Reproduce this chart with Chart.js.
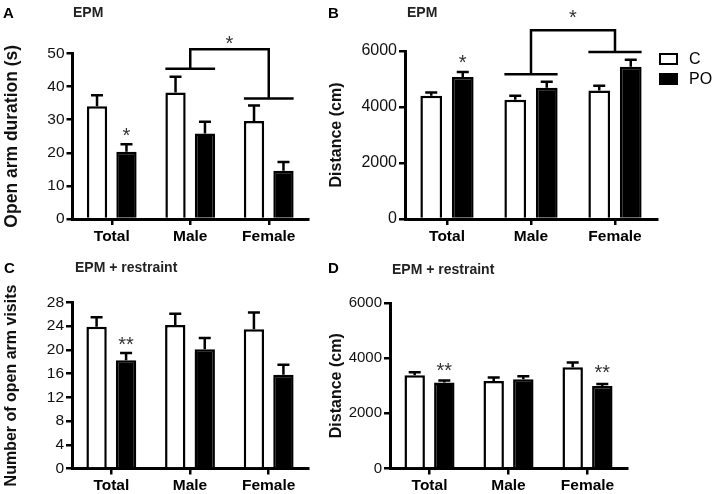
<!DOCTYPE html>
<html>
<head>
<meta charset="utf-8">
<script src="https://cdn.jsdelivr.net/npm/chart.js@4.4.1/dist/chart.umd.min.js"></script>
<style>
  body { margin: 0; background: #fff; }
  #wrap { position: relative; width: 714px; height: 494px; font-family: 'Liberation Sans', Arial, sans-serif; }
  #wrap canvas { position: absolute; }
  .lbl { position: absolute; font-weight: bold; line-height: 1; white-space: nowrap; }
  .key { position: absolute; width: 19px; height: 12.5px; box-sizing: border-box; border: 2.5px solid #000; }
  .keytext { position: absolute; font-size: 16px; line-height: 1; color: #000; }
</style>
</head>
<body>
<div id="wrap">
  <canvas id="chartA" width="322" height="247" style="left:0;top:0"></canvas>
  <canvas id="chartB" width="392" height="247" style="left:322px;top:0"></canvas>
  <canvas id="chartC" width="322" height="247" style="left:0;top:247px"></canvas>
  <canvas id="chartD" width="392" height="247" style="left:322px;top:247px"></canvas>

  <div class="lbl" style="left:3px;top:5px;font-size:15px;color:#000">A</div>
  <div class="lbl" style="left:73px;top:5px;font-size:14px;color:#222">EPM</div>
  <div class="lbl" style="left:328px;top:5px;font-size:15px;color:#000">B</div>
  <div class="lbl" style="left:407px;top:5px;font-size:14px;color:#222">EPM</div>
  <div class="lbl" style="left:4px;top:260px;font-size:15px;color:#000">C</div>
  <div class="lbl" style="left:75px;top:260px;font-size:14px;color:#222">EPM + restraint</div>
  <div class="lbl" style="left:328px;top:260px;font-size:15px;color:#000">D</div>
  <div class="lbl" style="left:392px;top:262px;font-size:14px;color:#222">EPM + restraint</div>

  <div class="key" style="left:659px;top:52.5px;background:#fff"></div>
  <div class="keytext" style="left:689px;top:51px">C</div>
  <div class="key" style="left:659px;top:72.5px;background:#000"></div>
  <div class="keytext" style="left:689px;top:71px">PO</div>
</div>

<script>
const groups = ['Total', 'Male', 'Female'];

// A - EPM, open arm duration (s)
const durationC = [34.1, 38.2, 29.6];
const durationCsem = [3.3, 4.8, 4.7];
const durationPO = [20.3, 25.8, 14.6];
const durationPOsem = [2.3, 3.6, 2.6];

// B - EPM, distance (cm)
const distanceC = [4400, 4260, 4590];
const distanceCsem = [120, 140, 170];
const distancePO = [5070, 4690, 5440];
const distancePOsem = [180, 215, 250];

// C - EPM + restraint, open arm visits
const visitsC = [23.9, 24.2, 23.5];
const visitsCsem = [1.6, 1.9, 2.8];
const visitsPO = [18.25, 20.1, 15.8];
const visitsPOsem = [1.25, 1.9, 1.7];

// D - EPM + restraint, distance (cm)
const restraintDistC = [3380, 3175, 3675];
const restraintDistCsem = [110, 125, 170];
const restraintDistPO = [3115, 3235, 2995];
const restraintDistPOsem = [75, 110, 70];

const FONT = "'Liberation Sans', Arial, sans-serif";

// error bars, brackets and asterisks
const panelMarks = {
    id: 'panelMarks',
    afterDatasetsDraw(chart, args, opts) {
        const ctx = chart.ctx;
        const y = chart.scales.y;
        const x = chart.scales.x;
        ctx.save();
        ctx.strokeStyle = '#000';
        ctx.lineWidth = 2.5;
        chart.data.datasets.forEach((ds, di) => {
            chart.getDatasetMeta(di).data.forEach((bar, i) => {
                const top = y.getPixelForValue(ds.data[i] + ds.sem[i]);
                ctx.beginPath();
                ctx.moveTo(bar.x, bar.y);
                ctx.lineTo(bar.x, top);
                ctx.moveTo(bar.x - 6, top);
                ctx.lineTo(bar.x + 6, top);
                ctx.stroke();
            });
        });

        const b = opts.bracket;
        if (b) {
            const c = chart.getDatasetMeta(0).data;
            const p = chart.getDatasetMeta(1).data;
            const span = (i) => [c[i].x - c[i].width / 2, p[i].x + p[i].width / 2];
            const [l1, r1] = span(b.from);
            const [l2, r2] = span(b.to);
            const y1 = y.getPixelForValue(b.fromLevel);
            const y2 = y.getPixelForValue(b.toLevel);
            const yt = y.getPixelForValue(b.topLevel);
            const x1 = x.getPixelForValue(b.from);
            const x2 = x.getPixelForValue(b.to);
            ctx.beginPath();
            ctx.moveTo(l1, y1); ctx.lineTo(r1, y1);
            ctx.moveTo(l2, y2); ctx.lineTo(r2, y2);
            ctx.moveTo(x1, y1); ctx.lineTo(x1, yt); ctx.lineTo(x2, yt); ctx.lineTo(x2, y2);
            ctx.stroke();
            drawStar(ctx, (x1 + x2) / 2, y.getPixelForValue(b.starLevel), '*');
        }

        (opts.stars || []).forEach(s => {
            const bar = chart.getDatasetMeta(s.series).data[s.index];
            drawStar(ctx, bar.x, y.getPixelForValue(s.level), s.text);
        });
        ctx.restore();
    }
};

function drawStar(ctx, cx, cy, text) {
    const size = 20;
    ctx.fillStyle = '#333';
    ctx.font = size + 'px ' + FONT;
    ctx.textAlign = 'center';
    ctx.textBaseline = 'alphabetic';
    ctx.fillText(text, cx, cy + 0.58 * size);
}

function makeChart(id, p) {
    const canvas = document.getElementById(id);
    const W = canvas.width, H = canvas.height;
    return new Chart(canvas, {
        type: 'bar',
        data: {
            labels: groups,
            datasets: [
                { label: 'C', data: p.c, sem: p.cSem, backgroundColor: '#fff', borderColor: '#000', borderWidth: 2.5 },
                { label: 'PO', data: p.po, sem: p.poSem, backgroundColor: '#000', borderColor: '#000', borderWidth: 2.5 }
            ]
        },
        options: {
            responsive: false,
            animation: false,
            categoryPercentage: 0.75,
            barPercentage: 0.69,
            layout: { padding: { left: 0, top: p.area.top, right: W - p.area.right, bottom: 0 } },
            plugins: {
                legend: { display: false },
                tooltip: { enabled: false },
                panelMarks: { bracket: p.bracket, stars: p.stars }
            },
            scales: {
                x: {
                    offset: true,
                    afterFit(s) { s.height = H - p.area.bottom; },
                    border: { color: '#000', width: 3 },
                    grid: { offset: false, drawOnChartArea: false, color: '#000', lineWidth: 2.5, tickLength: 6 },
                    ticks: { color: '#000', padding: 2, font: { family: FONT, size: 15.5, weight: 'bold' } }
                },
                y: {
                    min: 0,
                    max: p.max,
                    afterFit(s) { s.width = p.area.left; },
                    border: { color: '#000', width: 3 },
                    grid: { drawOnChartArea: false, color: '#000', lineWidth: 2.5, tickLength: 6 },
                    ticks: {
                        stepSize: p.step, color: '#111', padding: 2,
                        font: { family: FONT, size: p.tickSize },
                        callback: (v) => String(v)
                    },
                    title: {
                        display: true,
                        text: p.title,
                        color: '#111',
                        padding: { top: p.titlePad, bottom: 0 },
                        font: { family: FONT, size: p.titleSize, weight: 'bold' }
                    }
                }
            }
        },
        plugins: [panelMarks]
    });
}

makeChart('chartA', {
    c: durationC, cSem: durationCsem, po: durationPO, poSem: durationPOsem,
    max: 50, step: 10, tickSize: 15.5, title: 'Open arm duration (s)', titleSize: 17.5, titlePad: 2,
    area: { left: 72.5, right: 308, top: 53.5, bottom: 219 },
    bracket: { from: 1, to: 2, fromLevel: 45.4, toLevel: 36.4, topLevel: 51.3, starLevel: 54.7 },
    stars: [{ index: 0, series: 1, level: 26.9, text: '*' }]
});

makeChart('chartB', {
    c: distanceC, cSem: distanceCsem, po: distancePO, poSem: distancePOsem,
    max: 6000, step: 2000, tickSize: 16, title: 'Distance (cm)', titleSize: 16, titlePad: 4.5,
    area: { left: 83, right: 335, top: 51, bottom: 219 },
    bracket: { from: 1, to: 2, fromLevel: 5167, toLevel: 5967, topLevel: 6742, starLevel: 7386 },
    stars: [{ index: 0, series: 1, level: 5764, text: '*' }]
});

makeChart('chartC', {
    c: visitsC, cSem: visitsCsem, po: visitsPO, poSem: visitsPOsem,
    max: 28, step: 4, tickSize: 15.5, title: 'Number of open arm visits', titleSize: 16, titlePad: 1.5,
    area: { left: 72, right: 308, top: 55.5, bottom: 221.5 },
    stars: [{ index: 0, series: 1, level: 21.8, text: '**' }]
});

makeChart('chartD', {
    c: restraintDistC, cSem: restraintDistCsem, po: restraintDistPO, poSem: restraintDistPOsem,
    max: 6000, step: 2000, tickSize: 15, title: 'Distance (cm)', titleSize: 16, titlePad: 5,
    area: { left: 68, right: 305, top: 56, bottom: 221.5 },
    stars: [
        { index: 0, series: 1, level: 3727, text: '**' },
        { index: 2, series: 1, level: 3655, text: '**' }
    ]
});
</script>
</body>
</html>
